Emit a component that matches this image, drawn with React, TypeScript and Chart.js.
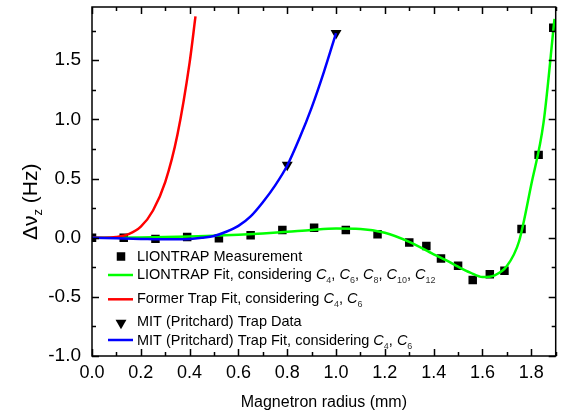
import React, { useEffect, useRef } from "react";
import { Chart, registerables } from "chart.js";

Chart.register(...registerables);

// ---- Data ----
const measX = [0, 0.13, 0.26, 0.39, 0.52, 0.65, 0.78, 0.91, 1.04, 1.17, 1.3, 1.37, 1.43, 1.5, 1.56, 1.63, 1.69, 1.76, 1.83, 1.89];
const measY = [0, 0, -0.01, 0.005, -0.005, 0.02, 0.065, 0.085, 0.065, 0.03, -0.04, -0.07, -0.175, -0.237, -0.358, -0.308, -0.28, 0.074, 0.7, 1.775];

const liontrapFitX = [0, 0.1, 0.2, 0.3, 0.4, 0.5, 0.6, 0.7, 0.8, 0.9, 1.0, 1.1, 1.2, 1.3, 1.4, 1.45, 1.5, 1.55, 1.6, 1.65, 1.7, 1.75, 1.8, 1.85, 1.895];
const liontrapFitY = [0, 0, 0.002, 0.005, 0.01, 0.017, 0.025, 0.036, 0.05, 0.066, 0.077, 0.074, 0.042, -0.035, -0.14, -0.19, -0.245, -0.295, -0.333, -0.318, -0.24, -0.03, 0.45, 0.97, 1.85];

const formerFitX = [0, 0.05, 0.1, 0.15, 0.2, 0.25, 0.3, 0.35, 0.4, 0.424];
const formerFitY = [0, 0, 0.006, 0.03, 0.093, 0.23, 0.47, 0.87, 1.48, 1.87];

const mitDataX = [0.8, 1.0];
const mitDataY = [0.615, 1.728];

const mitFitX = [0, 0.1, 0.2, 0.3, 0.4, 0.45, 0.5, 0.55, 0.6, 0.65, 0.7, 0.75, 0.8, 0.85, 0.9, 0.95, 1.0];
const mitFitY = [0, -0.005, -0.01, -0.014, -0.01, 0, 0.015, 0.05, 0.1, 0.18, 0.3, 0.44, 0.61, 0.84, 1.1, 1.4, 1.73];

const xTickStep = 0.2;
const yTickStep = 0.5;
const xMin = 0, xMax = 1.9, yMin = -1, yMax = 1.95;

const xTitle = "Magnetron radius (mm)";
const legendLabels = [
  "LIONTRAP Measurement",
  "LIONTRAP Fit, considering C_4, C_6, C_8, C_10, C_12",
  "Former Trap Fit, considering C_4, C_6",
  "MIT (Pritchard) Trap Data",
  "MIT (Pritchard) Trap Fit, considering C_4, C_6",
];

const GREEN = "#00ff00";
const RED = "#ff0000";
const BLUE = "#0000ff";
const FONT = '"Liberation Sans", Arial, Helvetica, sans-serif';

const pts = (xs: number[], ys: number[]) => xs.map((x, i) => ({ x, y: ys[i] }));

type Run = { t: string; it?: boolean; sub?: boolean };
function parseLabel(s: string): Run[] {
  const runs: Run[] = [];
  const re = /C_(\d+)/g;
  let last = 0;
  let m: RegExpExecArray | null;
  while ((m = re.exec(s))) {
    if (m.index > last) runs.push({ t: s.slice(last, m.index) });
    runs.push({ t: "C", it: true });
    runs.push({ t: m[1], sub: true });
    last = m.index + m[0].length;
  }
  if (last < s.length) runs.push({ t: s.slice(last) });
  return runs;
}

function drawRuns(ctx: CanvasRenderingContext2D, x: number, y: number, runs: Run[], size: number, subSize: number, subOff: number) {
  let cx = x;
  for (const r of runs) {
    const fs = r.sub ? subSize : size;
    ctx.font = `${r.it ? "italic " : ""}${fs}px ${FONT}`;
    ctx.fillStyle = r.sub ? "#333" : "#000";
    ctx.fillText(r.t, cx, y + (r.sub ? subOff : 0));
    cx += ctx.measureText(r.t).width;
  }
}

const decorPlugin = {
  id: "decor",
  afterDatasetsDraw(chart: any) {
    const ctx: CanvasRenderingContext2D = chart.ctx;
    const { left, right, top, bottom } = chart.chartArea;
    const xs = chart.scales.x;
    const ys = chart.scales.y;
    ctx.save();
    ctx.strokeStyle = "#000";
    ctx.lineWidth = 1.5;
    ctx.strokeRect(left, top, right - left, bottom - top);
    for (let i = 0; i <= Math.round((xMax - xMin) / (xTickStep / 2)); i++) {
      const v = xMin + i * (xTickStep / 2);
      if (v > xMax + 1e-9) break;
      const px = Math.round(xs.getPixelForValue(v)) + 0.5;
      const len = i % 2 === 0 ? 7 : 4;
      ctx.beginPath();
      ctx.moveTo(px, bottom);
      ctx.lineTo(px, bottom - len);
      ctx.moveTo(px, top);
      ctx.lineTo(px, top + len);
      ctx.stroke();
    }
    for (let i = 0; i <= Math.round((yMax - yMin) / (yTickStep / 2)); i++) {
      const v = yMin + i * (yTickStep / 2);
      if (v > yMax + 1e-9) break;
      const py = Math.round(ys.getPixelForValue(v)) + 0.5;
      const len = i % 2 === 0 ? 7 : 4;
      ctx.beginPath();
      ctx.moveTo(left, py);
      ctx.lineTo(left + len, py);
      ctx.moveTo(right, py);
      ctx.lineTo(right - len, py);
      ctx.stroke();
    }
    ctx.restore();
  },
  afterDraw(chart: any) {
    const ctx: CanvasRenderingContext2D = chart.ctx;
    const { left, right } = chart.chartArea;
    ctx.save();
    ctx.textBaseline = "alphabetic";
    ctx.textAlign = "left";

    // Legend
    const lineX0 = 108, lineX1 = 133, markX = 121, textX = 137;
    const baselines = [260.7, 279.3, 303.3, 326, 345];
    const symY = [256.5, 275, 299.3, 323, 340];
    ctx.fillStyle = "#000";
    ctx.fillRect(markX - 4.25, symY[0] - 4.25, 8.5, 8.5);
    const lineCols = [null, GREEN, RED, null, BLUE];
    for (let i = 0; i < 5; i++) {
      const c = lineCols[i];
      if (c) {
        ctx.strokeStyle = c;
        ctx.lineWidth = 2.5;
        ctx.beginPath();
        ctx.moveTo(lineX0, symY[i]);
        ctx.lineTo(lineX1, symY[i]);
        ctx.stroke();
      }
    }
    const r = 6.3;
    ctx.fillStyle = "#000";
    ctx.beginPath();
    ctx.moveTo(markX, symY[3] + r);
    ctx.lineTo(markX - r * 0.866, symY[3] - r / 2);
    ctx.lineTo(markX + r * 0.866, symY[3] - r / 2);
    ctx.closePath();
    ctx.fill();

    for (let i = 0; i < legendLabels.length; i++) {
      drawRuns(ctx, textX, baselines[i], parseLabel(legendLabels[i]), 14.5, 9, 4);
    }

    // X title
    ctx.fillStyle = "#000";
    ctx.font = `16px ${FONT}`;
    ctx.textAlign = "center";
    ctx.fillText(xTitle, (left + right) / 2, 407);

    // Y title (rotated)
    ctx.textAlign = "left";
    ctx.translate(37, 240);
    ctx.rotate(-Math.PI / 2);
    const main = 21;
    ctx.font = `${main}px ${FONT}`;
    ctx.fillText("\u0394\u03bd", 0, 0);
    let w = ctx.measureText("\u0394\u03bd").width;
    ctx.font = `13px ${FONT}`;
    ctx.fillText("z", w, 5);
    w += ctx.measureText("z").width;
    ctx.font = `${main}px ${FONT}`;
    ctx.fillText(" (Hz)", w, 0);
    ctx.restore();
  },
};

export default function App() {
  const ref = useRef<HTMLCanvasElement | null>(null);
  useEffect(() => {
    if (!ref.current) return;
    const chart = new Chart(ref.current, {
      type: "scatter",
      data: {
        datasets: [
          {
            label: "MIT Fit",
            data: pts(mitFitX, mitFitY),
            showLine: true,
            borderColor: BLUE,
            borderWidth: 2.5,
            pointRadius: 0,
            cubicInterpolationMode: "monotone",
            order: 0,
          },
          {
            label: "MIT Data",
            data: pts(mitDataX, mitDataY),
            showLine: false,
            pointStyle: "triangle",
            rotation: 180,
            pointRadius: 6.3,
            backgroundColor: "#000",
            borderColor: "#000",
            borderWidth: 0,
            order: 1,
          },
          {
            label: "Former Fit",
            data: pts(formerFitX, formerFitY),
            showLine: true,
            borderColor: RED,
            borderWidth: 2.5,
            pointRadius: 0,
            cubicInterpolationMode: "monotone",
            order: 2,
          },
          {
            label: "LIONTRAP Fit",
            data: pts(liontrapFitX, liontrapFitY),
            showLine: true,
            borderColor: GREEN,
            borderWidth: 2.5,
            pointRadius: 0,
            cubicInterpolationMode: "monotone",
            order: 3,
          },
          {
            label: "LIONTRAP Measurement",
            data: pts(measX, measY),
            showLine: false,
            pointStyle: "rect",
            pointRadius: 6,
            backgroundColor: "#000",
            borderColor: "#000",
            borderWidth: 0,
            order: 4,
          },
        ],
      },
      options: {
        responsive: false,
        animation: false,
        layout: { padding: { top: 7, right: 3, left: 0, bottom: 0 } },
        plugins: { legend: { display: false }, tooltip: { enabled: false } },
        scales: {
          x: {
            type: "linear",
            min: xMin,
            max: xMax,
            grid: { display: false },
            border: { display: false },
            ticks: {
              stepSize: xTickStep,
              includeBounds: false,
              color: "#000",
              padding: -2,
              maxRotation: 0,
              font: { family: FONT, size: 18 },
              callback: (v: any) => Number(v).toFixed(1),
            },
            afterFit: (s: any) => { s.height = 55; s.paddingLeft = 0; s.paddingRight = 0; },
          },
          y: {
            type: "linear",
            min: yMin,
            max: yMax,
            grid: { display: false },
            border: { display: false },
            ticks: {
              stepSize: yTickStep,
              includeBounds: false,
              color: "#000",
              padding: 3,
              font: { family: FONT, size: 19 },
              callback: (v: any) => Number(v).toFixed(1),
            },
            afterFit: (s: any) => { s.width = 92; s.paddingTop = 0; s.paddingBottom = 0; },
          },
        },
      } as any,
      plugins: [decorPlugin],
    });
    return () => chart.destroy();
  }, []);
  return (
    <div style={{ position: "absolute", left: 0, top: 0, width: 562, height: 411, background: "#fff" }}>
      <canvas ref={ref} width={562} height={411} />
    </div>
  );
}
